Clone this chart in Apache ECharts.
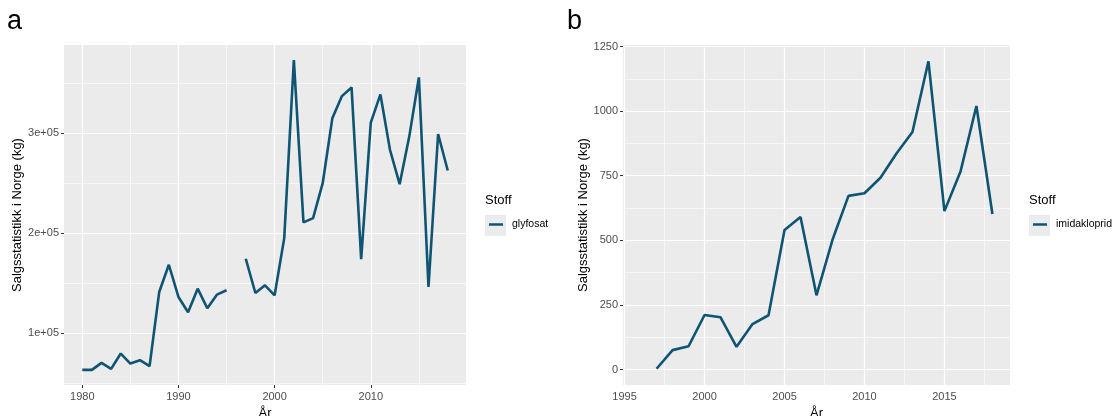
<!DOCTYPE html>
<html><head><meta charset="utf-8">
<script src="https://cdn.jsdelivr.net/npm/echarts@6/dist/echarts.min.js"></script>
<style>html,body{margin:0;padding:0;background:#fff}#c{width:1113px;height:416px}</style>
</head><body><div id="c"></div>
<script>
// Panel a: glyfosat
const yearsA = [1980,1981,1982,1983,1984,1985,1986,1987,1988,1989,1990,1991,1992,1993,1994,1995,1996,1997,1998,1999,2000,2001,2002,2003,2004,2005,2006,2007,2008,2009,2010,2011,2012,2013,2014,2015,2016,2017,2018];
const glyfosat = [63000,63000,70000,64000,79300,69300,72700,66700,141000,168300,136000,120700,144300,124700,138300,142700,null,174300,140000,147700,137700,195000,373300,210700,215000,250000,315000,337300,346000,174000,310700,339000,283300,249000,296700,356000,146000,299300,262700];
const ticksAx = [1980,1990,2000,2010];
const minorAx = [1985,1995,2005,2015];
const ticksAy = [100000,200000,300000];
const minorAy = [50000,150000,250000,350000];
const tickLabelsAy = ['1e+05','2e+05','3e+05'];

// Panel b: imidakloprid
const yearsB = [1996,1997,1998,1999,2000,2001,2002,2003,2004,2005,2006,2007,2008,2009,2010,2011,2012,2013,2014,2015,2016,2017,2018];
const imidakloprid = [null,3,75,90,211,202,88,176,210,540,590,287,502,672,682,742,836,919,1193,613,765,1020,602];
const ticksBx = [1995,2000,2005,2010,2015];
const minorBx = [1997.5,2002.5,2007.5,2012.5,2017.5];
const ticksBy = [0,250,500,750,1000,1250];
const minorBy = [125,375,625,875,1125];

const seriesNameA = 'glyfosat';
const seriesNameB = 'imidakloprid';
const legendTitle = 'Stoff';
const yTitle = 'Salgsstatistikk i Norge (kg)';
const xTitle = 'År';

const LINE = '#0E5473';
const FONT = '"Liberation Sans", Arial, sans-serif';

function pairs(xs, ys){ return xs.map((x,i)=>[x, ys[i]==null ? '-' : ys[i]]); }
function grid(majX, minX, majY, minY){
  const d = [];
  minX.forEach(v=>d.push({xAxis:v, lineStyle:{width:0.6}}));
  minY.forEach(v=>d.push({yAxis:v, lineStyle:{width:0.6}}));
  majX.forEach(v=>d.push({xAxis:v, lineStyle:{width:1.2}}));
  majY.forEach(v=>d.push({yAxis:v, lineStyle:{width:1.2}}));
  return {silent:true, symbol:['none','none'], label:{show:false}, animation:false,
    lineStyle:{color:'#FFFFFF', type:'solid'}, emphasis:{disabled:true}, data:d};
}
function xAx(gi, min, max, ticks){
  return {type:'value', gridIndex:gi, min:min, max:max,
    splitLine:{show:false}, axisLine:{show:false},
    axisTick:{show:true, length:3, lineStyle:{color:'#333333', width:1}, customValues:ticks},
    axisLabel:{customValues:ticks, color:'#4D4D4D', fontSize:11, fontFamily:FONT, margin:6, formatter:v=>String(v)},
    name:xTitle, nameLocation:'middle', nameGap:15,
    nameTextStyle:{color:'#000', fontSize:13, fontFamily:FONT}};
}
function yAx(gi, min, max, ticks, fmt, gap){
  return {type:'value', gridIndex:gi, min:min, max:max,
    splitLine:{show:false}, axisLine:{show:false},
    axisTick:{show:true, length:3, lineStyle:{color:'#333333', width:1}, customValues:ticks},
    axisLabel:{customValues:ticks, color:'#4D4D4D', fontSize:11, fontFamily:FONT, margin:5, formatter:fmt},
    name:yTitle, nameLocation:'middle', nameGap:gap, nameRotate:90,
    nameTextStyle:{color:'#000', fontSize:13, fontFamily:FONT}};
}

const chart = echarts.init(document.getElementById('c'), null, {renderer:'canvas'});
chart.setOption({
  animation:false,
  backgroundColor:'#FFFFFF',
  grid:[
    {left:64, top:45, width:402, height:340, show:true, backgroundColor:'#EBEBEB', borderWidth:0, containLabel:false, outerBoundsMode:'none'},
    {left:623, top:45, width:387, height:340, show:true, backgroundColor:'#EBEBEB', borderWidth:0, containLabel:false, outerBoundsMode:'none'}
  ],
  xAxis:[ xAx(0, 1978.1, 2019.9, ticksAx), xAx(1, 1994.9, 2019.1, ticksBx) ],
  yAxis:[
    yAx(0, 47800, 388500, ticksAy, v=>tickLabelsAy[ticksAy.indexOf(v)] || '', 39),
    yAx(1, -60, 1256, ticksBy, v=>String(v), 32)
  ],
  legend:[
    {data:[seriesNameA], left:489, top:219, orient:'vertical', padding:0, icon:'rect', itemWidth:14, itemHeight:2.5,
     textStyle:{fontSize:10.5, color:'#000', fontFamily:FONT, padding:[0,0,0,4]}, selectedMode:false},
    {data:[seriesNameB], left:1033, top:219, orient:'vertical', padding:0, icon:'rect', itemWidth:14, itemHeight:2.5,
     textStyle:{fontSize:10.5, color:'#000', fontFamily:FONT, padding:[0,0,0,4]}, selectedMode:false}
  ],
  graphic:[
    {type:'text', left:7, top:8, style:{text:'a', fontSize:27, fontFamily:FONT, fill:'#000'}},
    {type:'text', left:567, top:8, style:{text:'b', fontSize:27, fontFamily:FONT, fill:'#000'}},
    {type:'text', left:485, top:194, style:{text:legendTitle, fontSize:13, fontFamily:FONT, fill:'#000'}},
    {type:'text', left:1029, top:194, style:{text:legendTitle, fontSize:13, fontFamily:FONT, fill:'#000'}},
    {type:'rect', shape:{x:485, y:215, width:21, height:21}, style:{fill:'#EBEBEB'}, z:-1},
    {type:'rect', shape:{x:1029, y:215, width:21, height:21}, style:{fill:'#EBEBEB'}, z:-1}
  ],
  series:[
    {type:'line', name:'_gridA', xAxisIndex:0, yAxisIndex:0, data:pairs(yearsA, glyfosat), showSymbol:false,
     lineStyle:{opacity:0}, silent:true, z:1, markLine:grid(ticksAx, minorAx, ticksAy, minorAy)},
    {type:'line', name:'_gridB', xAxisIndex:1, yAxisIndex:1, data:pairs(yearsB, imidakloprid), showSymbol:false,
     lineStyle:{opacity:0}, silent:true, z:1, markLine:grid(ticksBx, minorBx, ticksBy, minorBy)},
    {type:'line', name:seriesNameA, xAxisIndex:0, yAxisIndex:0, data:pairs(yearsA, glyfosat),
     showSymbol:false, connectNulls:false, color:LINE, lineStyle:{color:LINE, width:2.6}, z:5},
    {type:'line', name:seriesNameB, xAxisIndex:1, yAxisIndex:1, data:pairs(yearsB, imidakloprid),
     showSymbol:false, connectNulls:false, color:LINE, lineStyle:{color:LINE, width:2.6}, z:5}
  ]
});
</script></body></html>
